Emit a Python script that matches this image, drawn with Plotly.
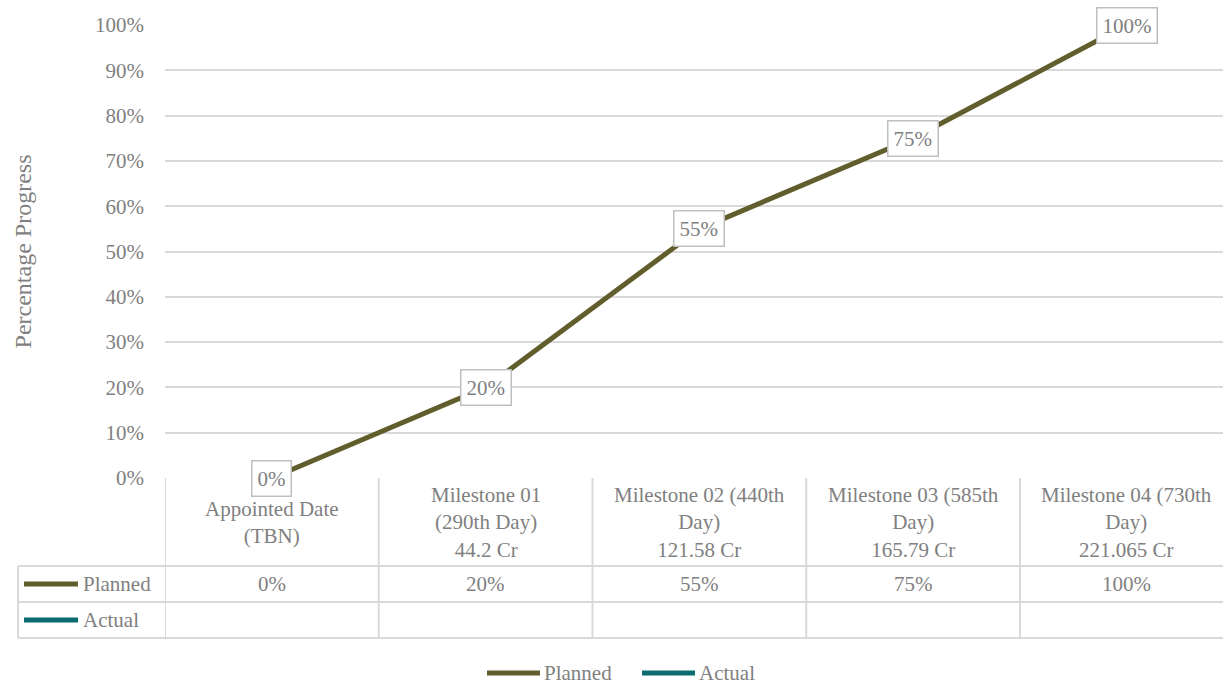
import plotly.graph_objects as go

categories = ["Appointed Date<br>(TBN)", "Milestone 01<br>(290th Day)<br>44.2 Cr",
              "Milestone 02 (440th<br>Day)<br>121.58 Cr", "Milestone 03 (585th<br>Day)<br>165.79 Cr",
              "Milestone 04 (730th<br>Day)<br>221.065 Cr"]
planned = [0.0, 0.20, 0.55, 0.75, 1.00]
actual = [None, None, None, None, None]
series_names = ["Planned", "Actual"]
series_colors = ["#625d2c", "#0c6b70"]

W, H = 1223, 684
L, R, T, B = 165, 0, 25, 206
PH = H - T - B
PW = W - L - R
FONT = "Liberation Serif"
FS = 21
GRAY = "#808080"
GRID = "#d9d9d9"

def py(px):  # pixel y -> paper y
    return (H - B - px) / PH

def px_(px):  # pixel x -> paper x
    return (px - L) / PW

xs = list(range(len(categories)))
fig = go.Figure()
fig.add_trace(go.Scatter(x=xs, y=planned, mode="lines", name=series_names[0],
                         line=dict(color=series_colors[0], width=5), cliponaxis=False))
fig.add_trace(go.Scatter(x=xs, y=actual, mode="lines", name=series_names[1],
                         line=dict(color=series_colors[1], width=5)))

shapes = []
annotations = []
# data labels
for x, v in zip(xs, planned):
    annotations.append(dict(x=x, y=v, xref="x", yref="y", text=f"{v:.0%}", showarrow=False,
                            font=dict(family=FONT, size=FS, color=GRAY), bgcolor="white",
                            bordercolor="#bfbfbf", borderwidth=1.5, borderpad=5))
# table lines
line_style = dict(color=GRID, width=2)
for ypix, x0 in [(566, 18), (602, 18), (638, 18)]:
    shapes.append(dict(type="line", xref="paper", yref="paper", x0=px_(x0), x1=1.02,
                       y0=py(ypix), y1=py(ypix), line=line_style))
for i in range(len(categories)):
    shapes.append(dict(type="line", xref="x", yref="paper", x0=i - 0.5, x1=i - 0.5,
                       y0=0, y1=py(638), line=line_style))
shapes.append(dict(type="line", xref="paper", yref="paper", x0=px_(18), x1=px_(18),
                   y0=py(566), y1=py(638), line=line_style))
# header text and planned row
for i, c in enumerate(categories):
    annotations.append(dict(x=i, y=py(522), xref="x", yref="paper", text=c, showarrow=False,
                            yanchor="middle", font=dict(family=FONT, size=FS, color=GRAY)))
    annotations.append(dict(x=i, y=py(584), xref="x", yref="paper",
                            text=f"{planned[i]:.0%}" if planned[i] is not None else "",
                            showarrow=False, yanchor="middle",
                            font=dict(family=FONT, size=FS, color=GRAY)))
# table row legend keys
for ypix, name, col in [(584, series_names[0], series_colors[0]), (620, series_names[1], series_colors[1])]:
    shapes.append(dict(type="line", xref="paper", yref="paper", x0=px_(24), x1=px_(78),
                       y0=py(ypix), y1=py(ypix), line=dict(color=col, width=5)))
    annotations.append(dict(x=px_(81), y=py(ypix), xref="paper", yref="paper", text=name,
                            showarrow=False, xanchor="left", yanchor="middle",
                            font=dict(family=FONT, size=FS, color=GRAY)))
# bottom legend
for x0, x1, tx, name, col in [(487, 540, 542, series_names[0], series_colors[0]),
                              (642, 695, 697, series_names[1], series_colors[1])]:
    shapes.append(dict(type="line", xref="paper", yref="paper", x0=px_(x0), x1=px_(x1),
                       y0=py(673), y1=py(673), line=dict(color=col, width=5)))
    annotations.append(dict(x=px_(tx), y=py(673), xref="paper", yref="paper", text=name,
                            showarrow=False, xanchor="left", yanchor="middle",
                            font=dict(family=FONT, size=FS, color=GRAY)))

fig.update_layout(
    width=W, height=H, margin=dict(l=L, r=R, t=T, b=B),
    paper_bgcolor="white", plot_bgcolor="white", showlegend=False,
    shapes=shapes, annotations=annotations,
    xaxis=dict(range=[-0.5, 4.45], showticklabels=False, showgrid=False, zeroline=False,
               showline=False, fixedrange=True),
    yaxis=dict(range=[0, 1], dtick=0.1, tickformat=".0%", showgrid=True, gridcolor=GRID,
               gridwidth=1.5, zeroline=False, showline=False, ticklabelstandoff=20,
               tickfont=dict(family=FONT, size=FS, color=GRAY),
               title=dict(text="Percentage Progress", font=dict(family=FONT, size=24, color=GRAY),
                          standoff=56)),
)
fig.write_html("out.html", config={"displayModeBar": False},
               post_script="document.body.style.margin='0';document.body.style.overflow='hidden';")
